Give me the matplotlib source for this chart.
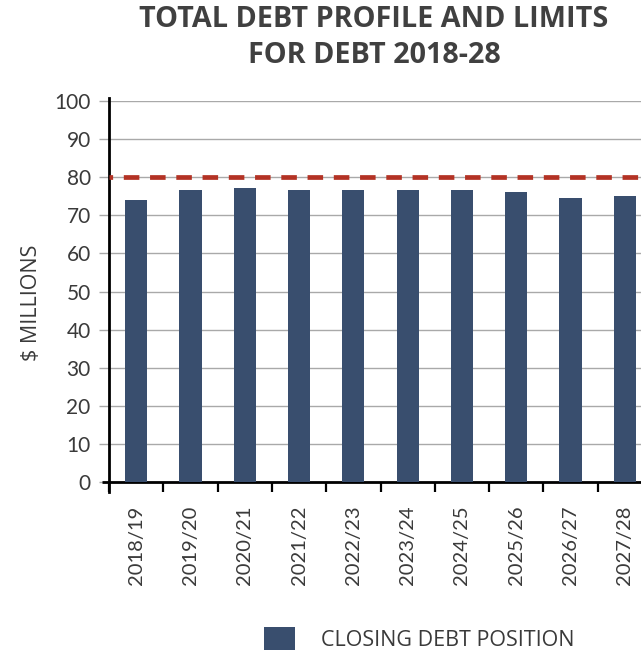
import matplotlib
matplotlib.use("Agg")
import matplotlib.pyplot as plt
from matplotlib.patches import Patch

plt.rcParams["lines.scale_dashes"] = False
plt.rcParams["font.family"] = ["Lato", "DejaVu Sans"]

years = ["2018/19", "2019/20", "2020/21", "2021/22", "2022/23",
         "2023/24", "2024/25", "2025/26", "2026/27", "2027/28"]
closing_debt = [74.0, 76.7, 77.2, 76.7, 76.7, 76.7, 76.7, 76.1, 74.6, 75.1]
debt_limit = 80
y_ticks = [0, 10, 20, 30, 40, 50, 60, 70, 80, 90, 100]

BAR_COLOR = "#394E6E"
LIMIT_COLOR = "#B33224"
TEXT_COLOR = "#3A3A3A"
GRID_COLOR = "#A9A9A9"

W, H = 641, 652
fig = plt.figure(figsize=(W / 100, H / 100), dpi=100)
ax = fig.add_axes([109 / W, 1 - 482 / H, (652 - 109) / W, (482 - 101) / H])

x = list(range(len(years)))
ax.bar(x, closing_debt, width=0.41, color=BAR_COLOR, zorder=3)
ax.axhline(debt_limit, color=LIMIT_COLOR, linewidth=3.4,
           linestyle=(8.6, (11.2, 7.7)), zorder=4)

ax.set_xlim(-0.5, len(years) - 0.5)
ax.set_ylim(0, 100)
ax.set_yticks(y_ticks)
ax.set_yticklabels([str(v) for v in y_ticks])
ax.yaxis.grid(True, color=GRID_COLOR, linewidth=1.0, zorder=0)
ax.set_axisbelow(True)

# category labels at bar centres, boundary tick marks between categories
ax.set_xticks(x)
ax.set_xticklabels(years, rotation=90, fontsize=14.5, color=TEXT_COLOR)
ax.tick_params(axis="x", which="major", length=0, pad=17)
ax.set_xticks([i + 0.5 for i in x[:-1]] + [-0.5], minor=True)
ax.tick_params(axis="x", which="minor", length=7.5, width=1.6, color="black")

ax.tick_params(axis="y", length=7.2, width=1.0, color=GRID_COLOR,
               labelsize=15, labelcolor=TEXT_COLOR, pad=6)

for side in ("top", "right"):
    ax.spines[side].set_visible(False)
ax.spines["left"].set_linewidth(2.0)
ax.spines["bottom"].set_linewidth(2.0)
ax.spines["left"].set_bounds(-2.6, 100.8)

# short extension of the base line past the value axis
ax.plot([-0.63, -0.5], [0, 0], color="black", linewidth=2.0,
        clip_on=False, zorder=5, solid_capstyle="butt")

ax.set_ylabel("$ MILLIONS", fontsize=15.5, color=TEXT_COLOR,
              family=["Open Sans", "DejaVu Sans"], va="center")
ax.yaxis.set_label_coords(-0.142, 0.47)

fig.text(374 / W, 1 - 37.5 / H, "TOTAL DEBT PROFILE AND LIMITS\nFOR DEBT 2018-28",
         ha="center", va="center", fontsize=20.7, fontweight="bold",
         color="#404040", family=["Open Sans", "DejaVu Sans"], linespacing=1.28)

fig.legend(handles=[Patch(facecolor=BAR_COLOR, label="CLOSING DEBT POSITION")],
           loc="center", bbox_to_anchor=(419.5 / W, 1 - 639 / H), frameon=False,
           prop={"family": ["Open Sans", "DejaVu Sans"], "size": 15.5},
           labelcolor=TEXT_COLOR, handlelength=1.44, handleheight=1.26,
           handletextpad=1.2, borderaxespad=0, borderpad=0)

fig.savefig("out.png", dpi=100)
